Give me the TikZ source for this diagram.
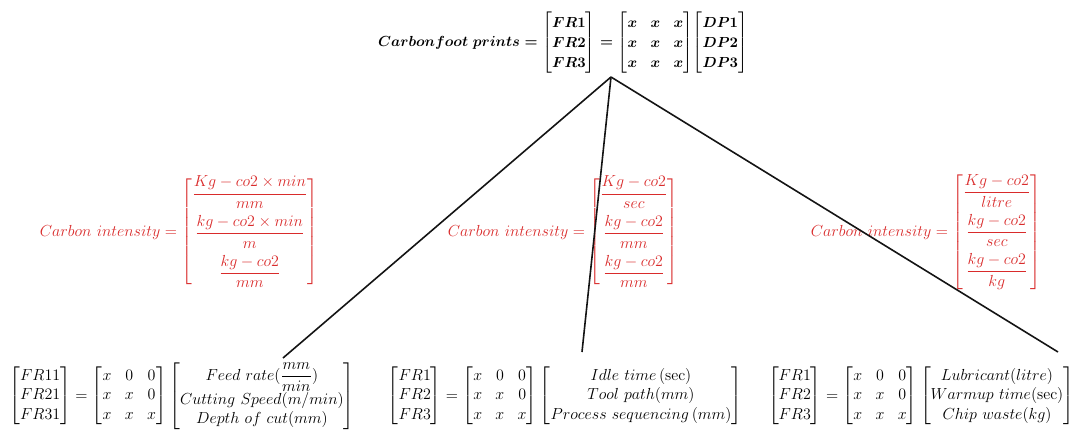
\documentclass[tikz,border=0pt]{standalone}
\usepackage{amsmath}
\usepackage{xcolor}
\usetikzlibrary{positioning}
\definecolor{IntensityRed}{HTML}{D92B2B}
\definecolor{LinkBlack}  {HTML}{141414}
\newcommand{\colvec}[3]{\begin{bmatrix}#1\\#2\\#3\end{bmatrix}}
\newcommand{\civec}[3]{\begin{bmatrix}#1\\\noalign{\vskip5pt}#2\\
  \noalign{\vskip5pt}#3\end{bmatrix}}
\newcommand{\fullmat}{\begin{bmatrix}x&x&x\\x&x&x\\x&x&x\end{bmatrix}}
\newcommand{\lowmat}{\begin{bmatrix}x&0&0\\x&x&0\\x&x&x\end{bmatrix}}
\newcommand{\dpvec}[3]{\left[\begin{matrix}#1\\#2\\#3\end{matrix}\right]}
\tikzset{
  topeq/.style={inner sep=0pt,font=\fontsize{11}{15}\selectfont\boldmath},
  ciq/.style={inner sep=0pt,text=IntensityRed,font=\fontsize{12.5}{15}\selectfont},
  freq/.style={inner sep=0pt,font=\fontsize{12}{14.5}\selectfont},
  link/.style={line width=1.2pt,color=LinkBlack},
}

\begin{document}
\begin{tikzpicture}[x=0.75pt,y=-0.75pt]

  \useasboundingbox (0,0) rectangle (1074,436);

  \node[topeq] (cfp) at (563,43)
    {$Carbonfoot\ prints=\colvec{FR1}{FR2}{FR3}=\fullmat\!
     \colvec{DP1}{DP2}{DP3}$};

  \node[ciq] (ci1) at (179,232)
    {$Carbon\ intensity=\civec{\dfrac{Kg-co2\times min}{mm}}
     {\dfrac{kg-co2\times min}{m}}{\dfrac{kg-co2}{mm}}$};

  \node[ciq] (ci2) at (563,232)
    {$Carbon\ intensity=\civec{\dfrac{Kg-co2}{sec}}
     {\dfrac{kg-co2}{mm}}{\dfrac{kg-co2}{mm}}$};

  \node[ciq] (ci3) at (926,232)
    {$Carbon\ intensity=\civec{\dfrac{Kg-co2}{litre}}
     {\dfrac{kg-co2}{sec}}{\dfrac{kg-co2}{kg}}$};

  \node[freq] (fr1) at (182,396)
    {$\colvec{FR11}{FR21}{FR31}=\lowmat
     \dpvec{Feed\ rate(\dfrac{mm}{min})}{Cutting\ Speed(m/min)}
     {Depth\ of\ cut(mm)}$};

  \node[freq] (fr2) at (565,396)
    {$\colvec{FR1}{FR2}{FR3}=\lowmat
     \dpvec{Idle\ time\,(\mathrm{sec})}{Tool\ path(mm)}
     {Process\ sequencing\,(mm)}$};

  \node[freq] (fr3) at (921,396)
    {$\colvec{FR1}{FR2}{FR3}=\lowmat
     \dpvec{Lubricant(litre)}{Warmup\ time(\mathrm{sec})}
     {Chip\ waste(kg)}$};

  \coordinate (apex) at (611,77);
  \coordinate (end1) at (283,358);
  \coordinate (end2) at (582,352);
  \coordinate (end3) at (1058,352);

  \draw[link] (apex) -- (end1);
  \draw[link] (apex) -- (end2);
  \draw[link] (apex) -- (end3);

\end{tikzpicture}
\end{document}
